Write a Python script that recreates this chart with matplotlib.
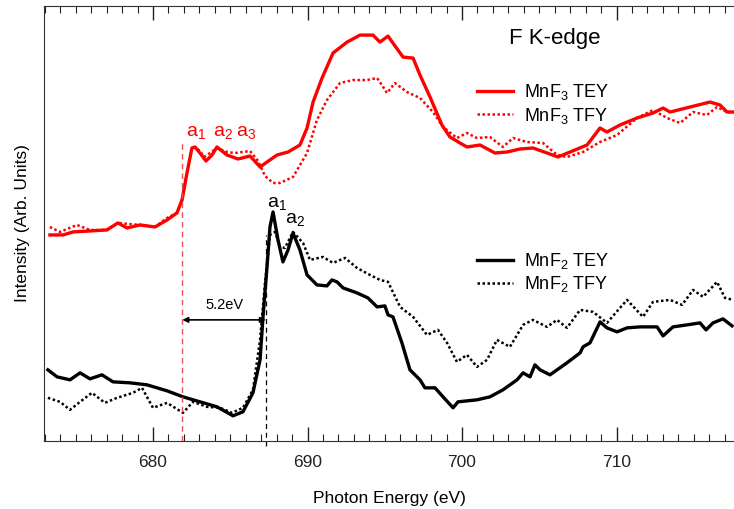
import numpy as np
import matplotlib
matplotlib.use("Agg")
import matplotlib.pyplot as plt
from matplotlib.ticker import MultipleLocator

plt.rcParams['font.family'] = ['Liberation Sans', 'DejaVu Sans']
plt.rcParams['mathtext.default'] = 'regular'

# ── data (arbitrary intensity units) ──
mnf3_tey_e = [673.33, 674.18, 674.82, 677.02, 677.73, 678.32, 679.16, 680.13, 680.91, 681.55,
              681.88, 682.2, 682.52, 682.72, 683.04, 683.43, 683.82, 684.14, 684.79, 685.5,
              686.28, 686.93, 687.38, 688.03, 688.74, 689.51, 689.97, 690.36, 690.94, 691.65,
              692.56, 693.4, 694.24, 694.69, 695.21, 695.53, 696.18, 696.83, 697.28, 697.93,
              698.7, 699.22, 699.87, 700.32, 701.16, 702.13, 702.91, 703.75, 704.59, 705.5,
              706.21, 706.99, 708.09, 708.93, 709.38, 710.22, 711.32, 712.36, 713.01, 713.46,
              714.75, 716.05, 716.7, 717.15, 717.54]
mnf3_tey_i = [206, 206, 209, 211, 218, 213, 216, 214, 221, 228,
              241, 268, 293, 294, 288, 280, 286, 294, 286, 282,
              285, 274, 279, 286, 289, 296, 313, 339, 363, 388,
              399, 406, 406, 399, 405, 398, 384, 383, 366, 344,
              316, 304, 298, 294, 296, 288, 289, 292, 293, 288,
              284, 289, 296, 313, 309, 316, 323, 328, 333, 329,
              334, 339, 336, 329, 329]

mnf3_tfy_e = [673.33, 673.98, 675.08, 675.92, 677.02, 677.73, 679.16, 680.13, 680.91, 681.55,
              681.88, 682.2, 682.52, 682.72, 683.04, 683.3, 683.69, 684.14, 684.79, 685.31,
              686.28, 686.8, 687.25, 687.77, 688.22, 689.06, 689.97, 690.61, 691.26, 692.1,
              692.94, 693.85, 694.5, 694.82, 695.14, 695.66, 696.44, 697.28, 698.12, 698.77,
              699.67, 700.32, 700.97, 701.81, 702.65, 703.3, 704.2, 705.24, 706.15, 706.79,
              707.83, 708.93, 710.03, 711.32, 712.36, 713.27, 714.11, 714.95, 715.85, 716.5,
              717.15, 717.54]
mnf3_tfy_i = [214, 209, 216, 211, 211, 218, 216, 214, 223, 228,
              241, 268, 292, 294, 290, 284, 288, 293, 289, 288,
              290, 280, 265, 258, 258, 264, 288, 321, 341, 358,
              361, 361, 363, 356, 348, 358, 349, 343, 329, 314,
              303, 308, 303, 304, 294, 303, 299, 298, 286, 284,
              289, 299, 306, 323, 331, 323, 318, 329, 326, 334,
              329, 329]

mnf2_tey_e = [673.2, 673.79, 674.63, 675.28, 675.92, 676.7, 677.41, 678.51, 679.61, 680.91,
              681.94, 683.04, 684.14, 685.18, 685.82, 686.47, 686.93, 687.12, 687.38, 687.57,
              687.77, 688.09, 688.41, 688.74, 689.06, 689.51, 689.97, 690.61, 691.26, 691.58,
              691.91, 692.3, 693.2, 693.91, 694.5, 695.01, 695.21, 695.53, 696.11, 696.63,
              697.28, 697.6, 698.25, 698.77, 699.42, 699.74, 700.97, 701.81, 702.65, 703.56,
              703.95, 704.4, 704.72, 705.05, 705.69, 706.79, 707.64, 707.83, 708.28, 708.93,
              709.38, 710.03, 710.68, 711.52, 712.62, 713.01, 713.65, 714.56, 715.4, 715.79,
              716.24, 716.89, 717.47]
mnf2_tey_i = [71, 64, 61, 68, 62, 66, 59, 58, 56, 50,
              44, 39, 34, 25, 29, 48, 81, 124, 174, 214,
              229, 201, 179, 191, 208, 191, 166, 156, 155, 161,
              159, 153, 148, 143, 134, 135, 126, 124, 98, 71,
              61, 53, 53, 44, 33, 39, 41, 44, 51, 61,
              68, 64, 76, 71, 66, 78, 88, 94, 98, 119,
              113, 109, 113, 114, 114, 105, 114, 116, 118, 111,
              118, 122, 115]

mnf2_tfy_e = [673.2, 673.98, 674.63, 675.28, 676.05, 676.89, 677.67, 678.71, 679.29, 680.0,
              680.91, 681.94, 682.59, 683.49, 684.34, 685.11, 685.82, 686.47, 686.93, 687.25,
              687.57, 687.9, 688.22, 688.54, 689.06, 689.71, 690.16, 691.0, 691.65, 692.43,
              693.2, 694.04, 694.69, 695.21, 695.99, 696.83, 697.73, 698.44, 699.03, 699.67,
              700.32, 700.97, 701.62, 702.26, 703.1, 703.95, 704.59, 705.5, 706.15, 706.79,
              707.64, 708.48, 709.38, 710.22, 710.68, 711.71, 712.36, 713.46, 714.24, 714.95,
              715.6, 716.5, 717.02, 717.54]
mnf2_tfy_i = [43, 39, 31, 39, 48, 38, 43, 48, 53, 33,
              38, 28, 39, 34, 33, 28, 33, 51, 101, 158,
              206, 209, 194, 193, 209, 198, 181, 184, 178, 183,
              173, 166, 161, 159, 134, 124, 106, 111, 98, 79,
              86, 74, 81, 101, 94, 116, 121, 114, 121, 113,
              131, 129, 118, 133, 141, 124, 139, 141, 136, 151,
              144, 159, 143, 141]

edge_mnf3 = 681.9
edge_mnf2 = 687.3

# ── figure ──
fig = plt.figure(figsize=(7.34, 5.09), dpi=100)
ax = fig.add_axes([0.06, 0.134, 0.94, 0.854])

red = '#ff0000'
ax.plot(mnf3_tey_e, mnf3_tey_i, color=red, lw=2.4, label='MnF$_3$ TEY')
ax.plot(mnf3_tfy_e, mnf3_tfy_i, color=red, lw=1.8, ls=(0, (1, 1)), label='MnF$_3$ TFY')
ax.plot(mnf2_tey_e, mnf2_tey_i, color='black', lw=2.4, label='MnF$_2$ TEY')
ax.plot(mnf2_tfy_e, mnf2_tfy_i, color='black', lw=1.8, ls=(0, (1, 1)), label='MnF$_2$ TFY')

# edge markers
ax.plot([edge_mnf3, edge_mnf3], [0, 299], color='#f05050', lw=1, ls=(0, (4, 3)))
ax.plot([edge_mnf2, edge_mnf2], [-5, 206], color='black', lw=0.9, ls=(0, (4, 3)), clip_on=False)
ax.annotate('', xy=(edge_mnf3, 121), xytext=(edge_mnf2, 121),
            arrowprops=dict(arrowstyle='<|-|>', color='black', lw=1.2,
                            mutation_scale=8, shrinkA=0, shrinkB=0))
ax.text((edge_mnf3 + edge_mnf2) / 2, 129, '5.2eV', ha='center', va='bottom', fontsize=10.5)

# peak labels
for x, s in [(682.75, 'a$_1$'), (684.5, 'a$_2$'), (686.0, 'a$_3$')]:
    ax.text(x, 300, s, color=red, ha='center', va='bottom', fontsize=14)
ax.text(688.0, 229, 'a$_1$', color='black', ha='center', va='bottom', fontsize=14)
ax.text(689.2, 213, 'a$_2$', color='black', ha='center', va='bottom', fontsize=14)

ax.text(0.74, 0.925, 'F K-edge', transform=ax.transAxes, ha='center', va='center', fontsize=16)

h, l = ax.get_legend_handles_labels()
leg1 = ax.legend(h[:2], l[:2], loc='upper left', bbox_to_anchor=(0.627, 0.825),
                 frameon=False, fontsize=13, handlelength=2.0, handletextpad=0.6,
                 labelspacing=0.2, borderpad=0, borderaxespad=0)
ax.add_artist(leg1)
ax.legend(h[2:], l[2:], loc='upper left', bbox_to_anchor=(0.627, 0.437),
          frameon=False, fontsize=13, handlelength=2.0, handletextpad=0.6,
          labelspacing=0.2, borderpad=0, borderaxespad=0)

ax.set_xlim(672.95, 717.6)
ax.set_ylim(0, 435)
ax.xaxis.set_major_locator(MultipleLocator(10))
ax.xaxis.set_minor_locator(MultipleLocator(1))
ax.tick_params(axis='x', which='both', direction='in', top=True, labelsize=12.5, colors='#222222')
ax.tick_params(axis='x', which='major', length=10, width=1)
ax.tick_params(axis='x', which='minor', length=5, width=0.8)
ax.tick_params(axis='x', pad=10)
ax.set_yticks([])
ax.spines['right'].set_visible(False)
for s in ['left', 'top', 'bottom']:
    ax.spines[s].set_color('#333333')

ax.set_xlabel('Photon Energy (eV)', fontsize=12.5, labelpad=15)
ax.set_ylabel('Intensity (Arb. Units)', fontsize=12.5, labelpad=10)

plt.savefig('out.png', dpi=100)
